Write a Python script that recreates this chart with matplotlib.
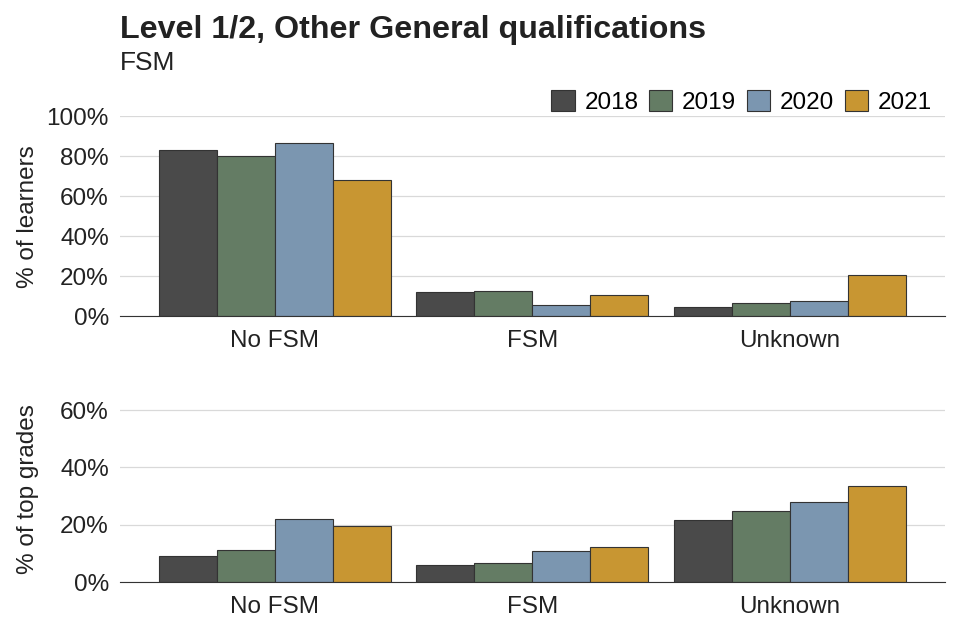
import numpy as np
import matplotlib.pyplot as plt
from matplotlib.ticker import PercentFormatter

plt.rcParams['font.family'] = ['Liberation Sans', 'DejaVu Sans']

# Data
groups = ["No FSM", "FSM", "Unknown"]
years = ["2018", "2019", "2020", "2021"]
colors = ["#4a4a4a", "#647c64", "#7b96b0", "#c89632"]

learners = {
    "2018": [83.0, 12.1, 4.8],
    "2019": [80.2, 12.6, 6.8],
    "2020": [86.7, 5.5, 7.6],
    "2021": [68.2, 10.6, 20.7],
}
top_grades = {
    "2018": [9.1, 5.9, 21.5],
    "2019": [11.3, 6.7, 24.9],
    "2020": [21.9, 10.7, 28.0],
    "2021": [19.5, 12.2, 33.5],
}

fig = plt.figure(figsize=(9.6, 6.4), dpi=100)
ax1 = fig.add_axes([0.125, 0.506, 0.859, 0.3125])
ax2 = fig.add_axes([0.125, 0.0906, 0.859, 0.291])

x = np.arange(len(groups))
width = 0.225
fs = 17.5


def draw(ax, data, ylim, ticks, ylabel):
    for i, yr in enumerate(years):
        ax.bar(x + (i - 1.5) * width, data[yr], width, color=colors[i],
               edgecolor="#333333", linewidth=0.8, label=yr, zorder=3)
    ax.set_xlim(-0.6, 2.6)
    ax.set_ylim(*ylim)
    ax.set_yticks(ticks)
    ax.yaxis.set_major_formatter(PercentFormatter(decimals=0))
    ax.set_xticks(x)
    ax.set_xticklabels(groups)
    ax.grid(axis="y", color="#d9d9d9", linewidth=0.9, zorder=0)
    for s in ["top", "right", "left"]:
        ax.spines[s].set_visible(False)
    ax.spines["bottom"].set_color("#333333")
    ax.spines["bottom"].set_zorder(4)
    ax.tick_params(axis="x", length=0, labelsize=fs, colors="#222222", pad=10)
    ax.tick_params(axis="y", length=0, labelsize=fs, colors="#222222", pad=8)
    ax.set_ylabel(ylabel, fontsize=fs, color="#222222")
    ax.yaxis.set_label_coords(-0.098, 0.5)


draw(ax1, learners, (0, 100), [0, 20, 40, 60, 80, 100], "% of learners")
draw(ax2, top_grades, (0, 65), [0, 20, 40, 60], "% of top grades")

ax1.legend(loc="lower right", bbox_to_anchor=(932 / 960, 1 - 114 / 640),
           bbox_transform=fig.transFigure, ncol=4, frameon=False,
           fontsize=fs, handlelength=0.96, handleheight=0.92, handletextpad=0.4,
           columnspacing=0.44, borderaxespad=0, borderpad=0)

fig.text(0.125, 1 - 38 / 640, "Level 1/2, Other General qualifications", fontsize=23.2,
         fontweight="bold", color="#222222", va="baseline")
fig.text(0.125, 1 - 70 / 640, "FSM", fontsize=19, color="#222222", va="baseline")

fig.savefig("out.png", dpi=100)
